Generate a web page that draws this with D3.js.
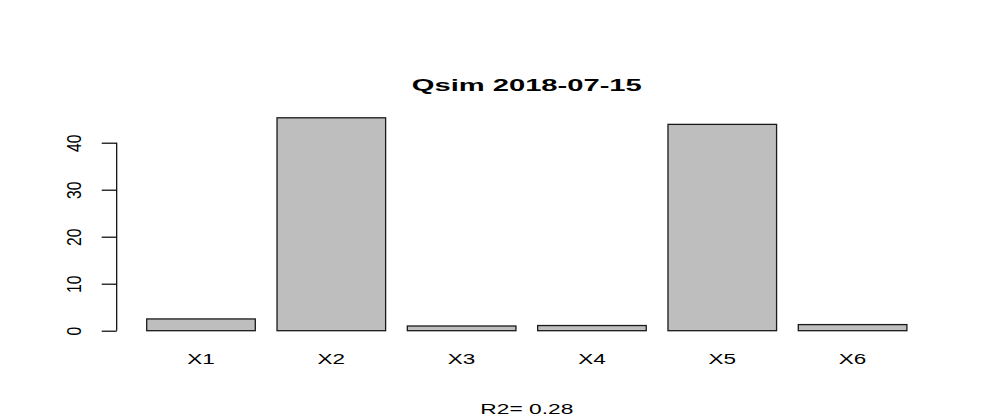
<!DOCTYPE html>
<html><head><meta charset="utf-8">
<script src="https://cdn.jsdelivr.net/npm/d3@7"></script>
<style>body{margin:0;background:#fff;} text{font-family:"Liberation Sans",Arial,sans-serif;}</style>
</head><body>
<svg id="c" width="997" height="419"></svg>
<script>
const categories = ["X1","X2","X3","X4","X5","X6"];
const values = [2.5, 45.3, 1.0, 1.1, 43.9, 1.3];
const yTicks = [0, 10, 20, 30, 40];
const title = "Qsim 2018-07-15";
const subtitle = "R2= 0.28";

const svg = d3.select("#c");
const unit = 108.6;
const x0 = 146.7 - 0.2*unit;
const x = d3.scaleLinear().domain([0, 1]).range([x0, x0 + unit]);
const y = d3.scaleLinear().domain([0, 40]).range([330.7, 142.7]);
const cx = (x(0.2) + x(7.2)) / 2;

const g = svg.append("g");
g.selectAll("rect").data(values).join("rect")
  .attr("x", (d,i) => x(0.2 + 1.2*i))
  .attr("width", x(1) - x(0))
  .attr("y", d => y(d))
  .attr("height", d => y(0) - y(d))
  .attr("fill", "#bebebe").attr("stroke", "#1a1a1a").attr("stroke-width", 1.3);

// x labels (horizontally stretched like the reference)
g.selectAll("text.xl").data(categories).join("text").attr("class","xl")
  .attr("x", (d,i) => x(0.7 + 1.2*i))
  .attr("y", 364)
  .attr("text-anchor","middle").attr("font-size", 14)
  .attr("textLength", 27.5).attr("lengthAdjust","spacingAndGlyphs")
  .text(d => d);

// y axis
const axis = d3.axisLeft(y).tickValues(yTicks).tickSize(15).tickPadding(0).tickFormat(d3.format("d"));
const ag = svg.append("g").attr("transform","translate(116.7,0)").call(axis);
ag.select(".domain").attr("d", `M0,${y(0)}V${y(40)}`).attr("stroke","#000").attr("stroke-width",1.2);
ag.selectAll(".tick line").attr("stroke","#000").attr("stroke-width",1.2);
ag.selectAll(".tick text").remove();
ag.selectAll(".tick").append("text")
  .attr("transform","translate(-35.7,0) rotate(-90)")
  .attr("text-anchor","middle")
  .attr("fill","#000").attr("font-size", 21)
  .attr("font-family","Liberation Sans, Arial, sans-serif")
  .attr("textLength", d => String(d).length * 8.7).attr("lengthAdjust","spacingAndGlyphs")
  .text(d => d);

svg.append("text").attr("x", cx).attr("y", 90.5)
  .attr("text-anchor","middle").attr("font-size", 16).attr("font-weight","bold")
  .attr("textLength", 230).attr("lengthAdjust","spacingAndGlyphs").text(title);
svg.append("text").attr("x", cx).attr("y", 413.5)
  .attr("text-anchor","middle").attr("font-size", 14)
  .attr("textLength", 93).attr("lengthAdjust","spacingAndGlyphs").text(subtitle);
</script>
</body></html>
